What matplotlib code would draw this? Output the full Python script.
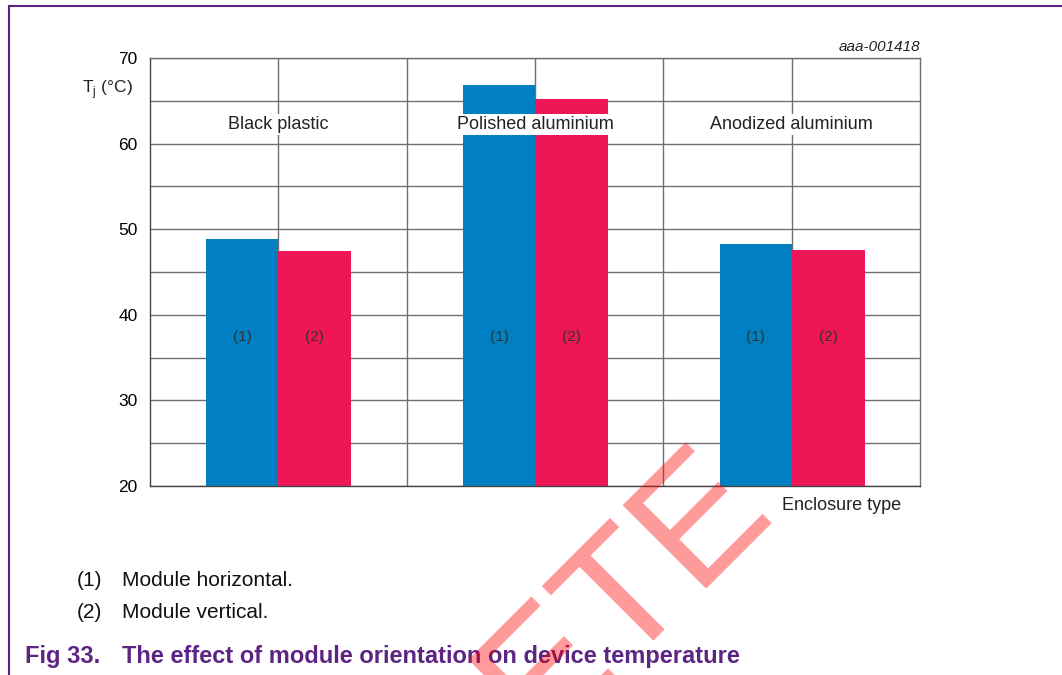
import matplotlib.pyplot as plt
from matplotlib.ticker import MultipleLocator

plt.rcParams['font.family'] = ['Liberation Sans', 'DejaVu Sans']

# junction temperature per enclosure, module horizontal (1) and vertical (2)
enclosures = ['Black plastic', 'Polished aluminium', 'Anodized aluminium']
tj_horizontal = [48.9, 66.8, 48.3]
tj_vertical = [47.5, 65.2, 47.6]
series_tags = ['(1)', '(2)']
notes = ['Module horizontal.', 'Module vertical.']

blue = '#0080c3'
red = '#ee1654'
purple = '#5c2483'
grid_col = '#707070'

fig = plt.figure(figsize=(10.62, 6.75), dpi=100)
ax = fig.add_axes([0.1412, 0.28, 0.7250, 0.6341])

centers = [1, 3, 5]
ax.bar(centers, tj_horizontal, width=-0.56, align='edge', bottom=0, color=blue, zorder=2)
ax.bar(centers, tj_vertical, width=0.57, align='edge', bottom=0, color=red, zorder=2)

ax.set_xlim(0, 6)
ax.set_ylim(20, 70)
ax.yaxis.set_major_locator(MultipleLocator(10))
ax.yaxis.set_minor_locator(MultipleLocator(5))
ax.set_xticks([1, 2, 3, 4, 5])
ax.tick_params(axis='x', length=0, labelbottom=False)
ax.tick_params(axis='y', which='both', length=0, labelsize=12.5, pad=9)
ax.grid(True, which='both', axis='y', color=grid_col, lw=1, zorder=1)
ax.grid(True, which='major', axis='x', color=grid_col, lw=1, zorder=1)
for s in ax.spines.values():
    s.set_color('#444444')
    s.set_linewidth(1)
ax.spines['top'].set_color(grid_col)
ax.spines['right'].set_color(grid_col)

# category names sit in the upper band on a white patch
for c, name in zip(centers, enclosures):
    ax.text(c, 62.2, name, ha='center', va='center', fontsize=13, color='#222222', zorder=4,
            bbox=dict(facecolor='white', edgecolor='none', pad=1.5))

# series tags inside the bars
for c in centers:
    ax.text(c - 0.28, 37.4, series_tags[0], ha='center', va='center', fontsize=11, color='#333333', zorder=3)
    ax.text(c + 0.285, 37.4, series_tags[1], ha='center', va='center', fontsize=11, color='#333333', zorder=3)

fig.text(82 / 1062, 1 - 90 / 675, r'T$_\mathregular{j}$ (°C)', ha='left', va='center', fontsize=12.5, color='#222222')
fig.text(920 / 1062, 1 - 47 / 675, 'aaa-001418', ha='right', va='center', fontsize=11, style='italic', color='#222222')
fig.text(842 / 1062, 1 - 505 / 675, 'Enclosure type', ha='center', va='center', fontsize=13, color='#222222')

# notes under the chart
for i, (tag, note) in enumerate(zip(series_tags, notes)):
    y = 1 - (580 + 32 * i) / 675
    fig.text(77 / 1062, y, tag, ha='left', va='center', fontsize=15, color='#111111')
    fig.text(122 / 1062, y, note, ha='left', va='center', fontsize=15, color='#111111')

fig.text(25 / 1062, 1 - 657 / 675, 'Fig 33.', ha='left', va='center', fontsize=17, fontweight='bold', color=purple)
fig.text(122 / 1062, 1 - 657 / 675, 'The effect of module orientation on device temperature',
         ha='left', va='center', fontsize=17, fontweight='bold', color=purple)

# page frame lines
fig.add_artist(plt.Line2D([9 / 1062, 1], [1 - 6 / 675, 1 - 6 / 675], color=purple, lw=1.5, transform=fig.transFigure))
fig.add_artist(plt.Line2D([9 / 1062, 9 / 1062], [0, 1 - 6 / 675], color=purple, lw=1.5, transform=fig.transFigure))

# diagonal stamp across the lower part of the page
fig.text(776 / 1062, 1 - 511 / 675, 'OBSOLETE', rotation=45, rotation_mode='anchor', ha='right', va='baseline',
         fontsize=123, color='red', alpha=0.4, zorder=10)

fig.savefig('out.png', dpi=100)
